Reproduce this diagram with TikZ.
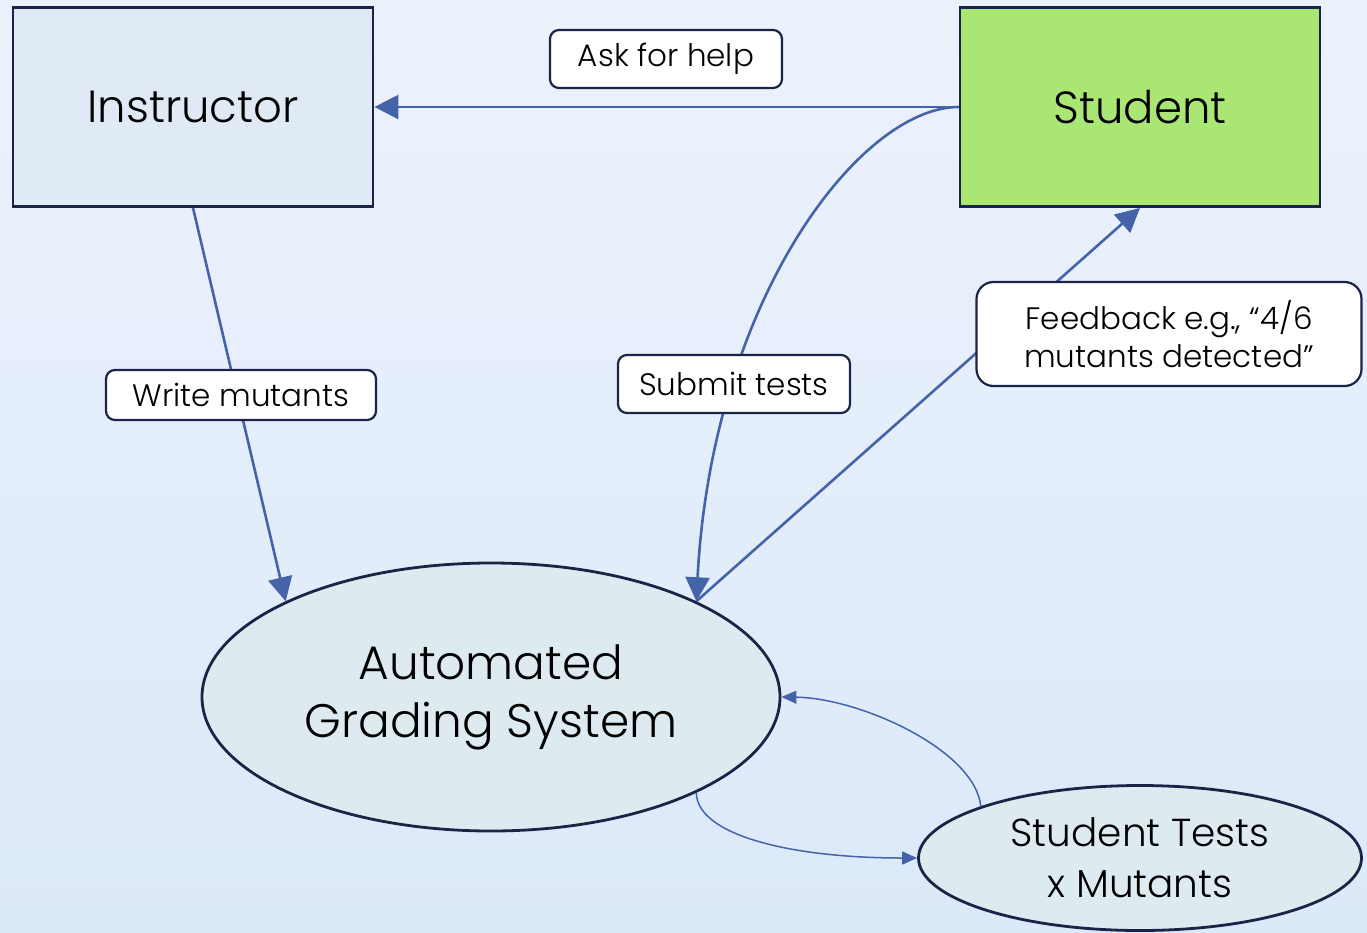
\documentclass[tikz,border=0pt]{standalone}
\usepackage{fontspec}
\setmainfont{Poppins}[UprightFont=* Light]
\usetikzlibrary{arrows.meta,shapes.geometric}

\definecolor{bgtop}{RGB}{236,242,252}
\definecolor{bgbot}{RGB}{220,233,249}
\definecolor{navy}{RGB}{27,36,71}
\definecolor{arrowblue}{RGB}{69,99,168}
\definecolor{instrfill}{RGB}{223,234,245}
\definecolor{studfill}{RGB}{169,230,115}
\definecolor{ellfill}{RGB}{221,235,240}

\begin{document}
\begin{tikzpicture}[x=1pt,y=-1pt,
    actor/.style={draw=navy,line width=2.8pt,minimum width=360pt,minimum height=199pt,inner sep=0pt,font=\fontsize{45}{54}\selectfont},
    blob/.style={ellipse,draw=navy,line width=2.8pt,fill=ellfill,inner sep=0pt,align=center},
    tag/.style={draw=navy,line width=2.2pt,fill=white,rounded corners=9pt,inner sep=0pt,align=center,font=\fontsize{31}{38}\selectfont},
    flow/.style={draw=arrowblue,line width=2.6pt,-{Triangle[length=24pt,width=24pt]}},
    loopflow/.style={draw=arrowblue,line width=1.5pt,-{Triangle[length=15pt,width=13pt]}}]
    \useasboundingbox (0,0) rectangle (1367,932);
    \shade[top color=bgtop,bottom color=bgbot] (0,0) rectangle (1367,932);

    % PEOPLE
    \node[actor,fill=instrfill] (instr) at (193,107) {Instructor};
    \node[actor,fill=studfill] (stud) at (1140,107) {Student};

    % GRADER
    \node[blob,minimum width=578pt,minimum height=268pt,font=\fontsize{47}{58}\selectfont] (grader) at (491,697) {Automated\\Grading System};
    \node[blob,minimum width=443pt,minimum height=145pt,font=\fontsize{39}{51}\selectfont] (runs) at (1140,858) {Student Tests\\x Mutants};

    % ARROWS
    \draw[flow] (stud.west) -- (instr.east);
    \draw[flow] (instr.south) -- (grader.155);
    \draw[flow] (stud.west) .. controls (860,107) and (712,300) .. (grader.25);
    \draw[flow] (grader.25) -- (stud.south);
    \draw[loopflow] (grader.-25) .. controls (697,835) and (790,858) .. (runs.west);
    \draw[loopflow] (runs.162) .. controls (975,750) and (860,698) .. (grader.east);

    % LABELS
    \node[tag,minimum width=232pt,minimum height=58pt] (ask) at (666,59) {Ask for help};
    \node[tag,minimum width=270pt,minimum height=50pt] (write) at (241,395) {Write mutants};
    \node[tag,minimum width=232pt,minimum height=58pt] (submit) at (734,384) {Submit tests};
    \node[tag,minimum width=385pt,minimum height=104pt,rounded corners=17pt] (feedback) at (1169,334) {Feedback e.g., “4/6\\mutants detected”};
\end{tikzpicture}
\end{document}
